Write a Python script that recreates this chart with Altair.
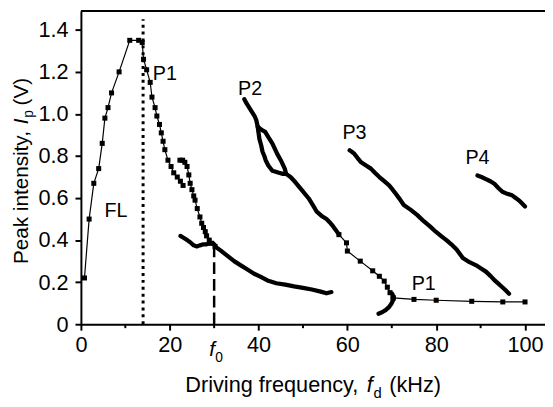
import altair as alt
import pandas as pd

FONT = "Liberation Sans"

# ---- data ----
FL_x = [0.8, 1.85, 2.9, 4.0, 4.8, 5.4, 6.1, 6.9, 8.6, 11.0, 13.0, 13.8, 14.1, 14.8, 15.6, 16.0,
        16.7, 17.1, 17.7, 18.1, 18.5, 18.9, 19.6, 20.3, 20.9, 21.7, 22.4, 23.0]
FL_y = [0.22, 0.50, 0.67, 0.74, 0.86, 0.98, 1.03, 1.10, 1.20, 1.35, 1.35, 1.34, 1.26, 1.21, 1.15, 1.08,
        1.03, 0.99, 0.95, 0.91, 0.87, 0.83, 0.78, 0.75, 0.72, 0.70, 0.68, 0.66]

P1b_x = [22.3, 22.9, 23.4, 23.9, 24.3, 24.6, 25.0, 25.4, 25.7, 26.2, 26.8, 27.2, 27.6, 28.0, 28.3,
         28.9, 29.4, 30.2]
P1b_y = [0.78, 0.78, 0.77, 0.75, 0.71, 0.67, 0.64, 0.61, 0.59, 0.55, 0.51, 0.48, 0.46, 0.44, 0.42,
         0.40, 0.385, 0.37]

P1tail_x = [30.2, 31.5, 33.0, 34.5, 36.0, 37.5, 39.0, 40.5, 42.0, 44.0, 46.0, 48.0, 50.0, 52.0, 54.0,
            55.3, 56.4]
P1tail_y = [0.37, 0.35, 0.325, 0.30, 0.28, 0.26, 0.24, 0.225, 0.208, 0.195, 0.188, 0.18, 0.173, 0.165,
            0.155, 0.147, 0.153]

LOW_x = [22.4, 23.2, 23.9, 24.6, 25.4, 26.1, 26.8, 27.6, 28.3, 29.1, 29.8, 30.2]
LOW_y = [0.42, 0.41, 0.40, 0.39, 0.375, 0.37, 0.375, 0.38, 0.38, 0.385, 0.385, 0.375]

P2_x = [36.8, 37.3, 37.9, 38.5, 39.1, 39.5, 39.8, 40.6, 41.5, 42.2, 43.1, 44.2, 45.0, 45.9, 46.2,
        47.2, 48.3, 49.8, 51.3, 52.4, 53.1, 54.2, 55.3, 56.0, 56.8, 57.5, 58.1]
P2_y = [1.07, 1.05, 1.03, 1.01, 0.99, 0.97, 0.94, 0.925, 0.915, 0.89, 0.86, 0.81, 0.78, 0.74, 0.715,
        0.70, 0.675, 0.637, 0.598, 0.56, 0.535, 0.515, 0.50, 0.485, 0.465, 0.445, 0.426]

LOOP_x = [39.8, 40.0, 40.2, 40.6, 40.9, 41.3, 41.6, 42.2, 43.1, 44.6, 45.5, 46.2]
LOOP_y = [0.94, 0.91, 0.88, 0.85, 0.82, 0.80, 0.78, 0.755, 0.73, 0.72, 0.715, 0.715]

P2s_x = [58.1, 59.8, 60.0, 62.9, 65.7, 67.2, 68.3, 69.0, 69.6, 70.3]
P2s_y = [0.426, 0.387, 0.348, 0.30, 0.254, 0.228, 0.205, 0.176, 0.15, 0.125]

HOOK_x = [67.0, 67.8, 68.6, 69.3, 69.9, 70.3, 70.4, 70.1]
HOOK_y = [0.05, 0.057, 0.067, 0.08, 0.097, 0.115, 0.13, 0.145]

P1r_x = [70.3, 75.0, 80.0, 88.0, 95.0, 100.0]
P1r_y = [0.125, 0.118, 0.114, 0.109, 0.106, 0.106]

P3_x = [60.5, 61.0, 61.6, 62.3, 63.1, 64.2, 65.3, 66.2, 67.2, 68.3, 69.4, 70.2, 70.9, 71.8, 72.7, 74.2,
        75.7, 77.2, 78.6, 79.9, 81.2, 82.3, 83.4, 84.6, 86.0, 87.5, 89.0, 90.1, 91.2, 92.2, 93.1, 94.0,
        94.9, 95.7, 96.4]
P3_y = [0.827, 0.82, 0.81, 0.79, 0.77, 0.755, 0.74, 0.72, 0.70, 0.68, 0.66, 0.64, 0.62, 0.595, 0.567,
        0.545, 0.52, 0.49, 0.465, 0.44, 0.418, 0.40, 0.38, 0.355, 0.315, 0.295, 0.28, 0.265, 0.25, 0.23,
        0.21, 0.193, 0.176, 0.16, 0.145]

P4_x = [89.3, 90.2, 91.2, 92.2, 93.1, 94.0, 94.9, 96.0, 97.1, 97.9, 98.6, 99.3, 100.0]
P4_y = [0.707, 0.70, 0.69, 0.68, 0.668, 0.648, 0.63, 0.62, 0.613, 0.60, 0.59, 0.575, 0.56]

segments = [
    ("FL", "sparse", FL_x, FL_y),
    ("P1b", "sparse", P1b_x, P1b_y),
    ("P1tail", "dense", P1tail_x, P1tail_y),
    ("LOW", "dense", LOW_x, LOW_y),
    ("P2", "dense", P2_x, P2_y),
    ("LOOP", "dense", LOOP_x, LOOP_y),
    ("P2s", "sparse", P2s_x, P2s_y),
    ("HOOK", "dense", HOOK_x, HOOK_y),
    ("P1r", "sparse", P1r_x, P1r_y),
    ("P3", "dense", P3_x, P3_y),
    ("P4", "dense", P4_x, P4_y),
]

label_text = ["P1", "P2", "P3", "P4", "FL", "P1"]
label_x = [18.9, 38.1, 61.6, 89.3, 7.9, 77.2]
label_y = [1.19, 1.12, 0.91, 0.79, 0.536, 0.19]

x_ticks = [0, 20, 40, 60, 80, 100]
x_minor = [10, 30, 50, 70, 90]
y_ticks = [0, 0.2, 0.4, 0.6, 0.8, 1.0, 1.2, 1.4]

dotted_x, dotted_y2 = 14, 1.45
dashed_x, dashed_y2 = 30, 0.37

rows = []
for name, kind, xs, ys in segments:
    for i, (xv, yv) in enumerate(zip(xs, ys)):
        rows.append({"seg": name, "kind": kind, "order": i, "x": xv, "y": yv})
df = pd.DataFrame(rows)

W, H = 471, 318

xenc = alt.X("x:Q", scale=alt.Scale(domain=[0, 104.5], nice=False, zero=False),
             axis=alt.Axis(values=x_ticks, title=None, grid=False, tickSize=6, tickWidth=2,
                           domainWidth=2, labelPadding=5, labelFlush=False))
yenc = alt.Y("y:Q", scale=alt.Scale(domain=[0, 1.49], nice=False),
             axis=alt.Axis(values=y_ticks, title=None, grid=False, tickSize=6, tickWidth=2,
                           domainWidth=2, labelPadding=7, labelFlush=False,
                           labelExpr="datum.value == 0 ? '0' : format(datum.value, '.1f')"))

base = alt.Chart(df)
thin = base.mark_line(color="black", strokeWidth=1.2).encode(
    x=xenc, y=yenc, detail="seg:N", order="order:Q")
thick = base.transform_filter(alt.datum.kind == "dense").mark_line(
    color="black", strokeWidth=4.3, strokeCap="round", strokeJoin="round").encode(
    x=xenc, y=yenc, detail="seg:N", order="order:Q")
pts = base.transform_filter(alt.datum.kind == "sparse").mark_point(
    shape="square", filled=True, size=26, color="black", opacity=1).encode(x=xenc, y=yenc)

vl = alt.Chart(pd.DataFrame({"x": [dotted_x], "y": [0], "y2": [dotted_y2]})).mark_rule(
    color="black", strokeWidth=3, strokeDash=[3, 4]).encode(x=xenc, y=yenc, y2="y2:Q")
dl = alt.Chart(pd.DataFrame({"x": [dashed_x], "y": [0], "y2": [dashed_y2]})).mark_rule(
    color="black", strokeWidth=2.5, strokeDash=[12, 5]).encode(x=xenc, y=yenc, y2="y2:Q")

minor = alt.Chart(pd.DataFrame({"x": x_minor})).mark_rule(color="black", strokeWidth=2).encode(
    x=xenc, y=alt.value(H), y2=alt.value(H + 4))

top = alt.Chart(pd.DataFrame({"a": [0]})).mark_rule(color="black", strokeWidth=2).encode(
    x=alt.value(0), x2=alt.value(W), y=alt.value(0))

labels = alt.Chart(pd.DataFrame({"t": label_text, "x": label_x, "y": label_y})).mark_text(
    fontSize=20, font=FONT, color="black", align="center", baseline="middle").encode(
    x=xenc, y=yenc, text="t:N")

# f0 below axis
f0 = alt.Chart(pd.DataFrame({"x": [dashed_x]})).mark_text(
    fontSize=21, font=FONT, fontStyle="italic", color="black", align="center",
    baseline="alphabetic", dx=-2).encode(x=xenc, y=alt.value(H + 32), text=alt.value("f"))
f0s = alt.Chart(pd.DataFrame({"x": [dashed_x]})).mark_text(
    fontSize=14, font=FONT, color="black", align="left",
    baseline="alphabetic", dx=1).encode(x=xenc, y=alt.value(H + 38), text=alt.value("0"))

# x axis title pieces
xt_y = 387
xt1 = alt.Chart(pd.DataFrame({"a": [0]})).mark_text(
    fontSize=22, font=FONT, color="black", align="left", baseline="alphabetic").encode(
    x=alt.value(106), y=alt.value(xt_y), text=alt.value("Driving frequency,"))
xt2 = alt.Chart(pd.DataFrame({"a": [0]})).mark_text(
    fontSize=22, font=FONT, fontStyle="italic", color="black", align="left", baseline="alphabetic").encode(
    x=alt.value(290), y=alt.value(xt_y), text=alt.value("f"))
xt3 = alt.Chart(pd.DataFrame({"a": [0]})).mark_text(
    fontSize=15, font=FONT, color="black", align="left", baseline="alphabetic").encode(
    x=alt.value(297), y=alt.value(xt_y + 6), text=alt.value("d"))
xt4 = alt.Chart(pd.DataFrame({"a": [0]})).mark_text(
    fontSize=22, font=FONT, color="black", align="left", baseline="alphabetic").encode(
    x=alt.value(313), y=alt.value(xt_y), text=alt.value("(kHz)"))

# y axis title pieces (rotated)
yt_x = -54
yt1 = alt.Chart(pd.DataFrame({"a": [0]})).mark_text(
    fontSize=21, font=FONT, color="black", align="left", baseline="alphabetic", angle=270).encode(
    x=alt.value(yt_x), y=alt.value(257), text=alt.value("Peak intensity,"))
yt2 = alt.Chart(pd.DataFrame({"a": [0]})).mark_text(
    fontSize=21, font=FONT, fontStyle="italic", color="black", align="left", baseline="alphabetic",
    angle=270).encode(x=alt.value(yt_x), y=alt.value(115), text=alt.value("I"))
yt3 = alt.Chart(pd.DataFrame({"a": [0]})).mark_text(
    fontSize=14, font=FONT, color="black", align="left", baseline="alphabetic", angle=270).encode(
    x=alt.value(yt_x + 5), y=alt.value(108.5), text=alt.value("p"))
yt4 = alt.Chart(pd.DataFrame({"a": [0]})).mark_text(
    fontSize=21, font=FONT, color="black", align="left", baseline="alphabetic", angle=270).encode(
    x=alt.value(yt_x), y=alt.value(96), text=alt.value("(V)"))

chart = alt.layer(
    vl, dl, thin, thick, pts, minor, top, labels, f0, f0s, xt1, xt2, xt3, xt4, yt1, yt2, yt3, yt4
).properties(
    width=W, height=H,
    autosize=alt.AutoSizeParams(type="none"),
    padding={"left": 74, "top": 0, "right": 0, "bottom": 76},
).configure_view(stroke=None).configure_axis(
    labelFont=FONT, labelFontSize=22, labelColor="black", domainColor="black", tickColor="black"
)

chart.save("out.html", embed_options={"renderer": "svg", "actions": False})
